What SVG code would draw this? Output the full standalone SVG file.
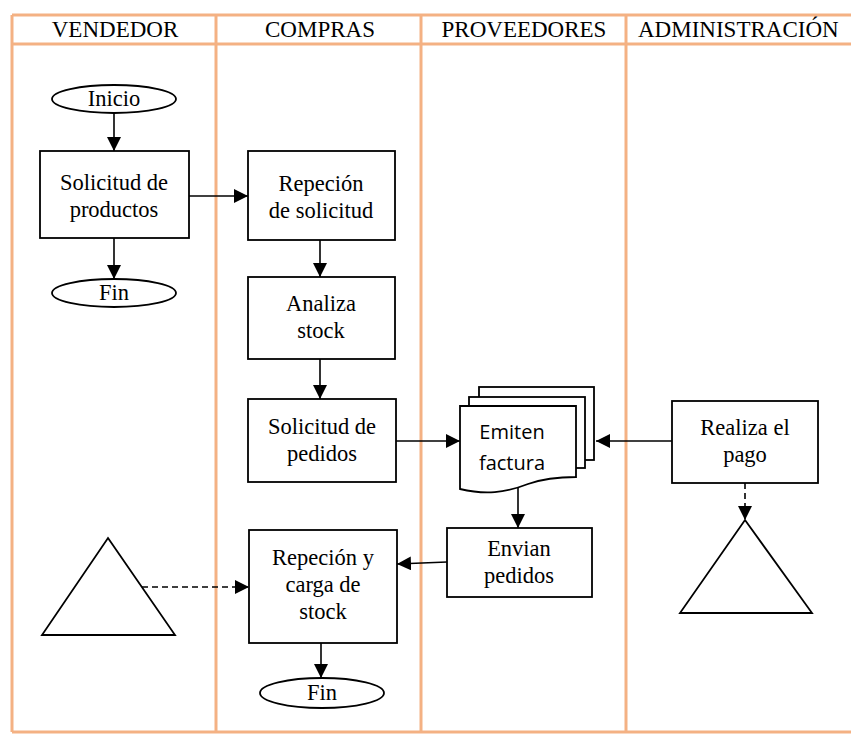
<svg xmlns="http://www.w3.org/2000/svg" width="851" height="734" viewBox="0 0 851 734">
<defs>
<style>
.lane{stroke:#f4b183;stroke-width:3;fill:none}
.hdr{font-family:"Liberation Serif","Times New Roman",serif;font-size:23px;fill:#000}
.box{fill:#fff;stroke:#000;stroke-width:1.8}
.t{font-family:"Liberation Serif","Times New Roman",serif;font-size:22.5px;fill:#000;text-anchor:middle}
.ts{font-family:"Open Sans",sans-serif;font-size:20px;fill:#000;text-anchor:middle}
.c{stroke:#000;stroke-width:1.6;fill:none}
.d{stroke:#000;stroke-width:1.6;fill:none;stroke-dasharray:6 4}
</style>
<marker id="ahl" viewBox="0 0 10 10" refX="10" refY="5" markerWidth="14" markerHeight="14" markerUnits="userSpaceOnUse" orient="auto">
<path d="M0,0 L10,5 L0,10 z" fill="#000"/>
</marker>
</defs>
<rect width="851" height="734" fill="#fff"/>
<g id="lanes">
<line class="lane" x1="12" y1="15" x2="851" y2="15"/>
<line class="lane" x1="12" y1="44" x2="851" y2="44"/>
<line class="lane" x1="12" y1="732" x2="851" y2="732"/>
<line class="lane" x1="12" y1="15" x2="12" y2="732"/>
<line class="lane" x1="216" y1="15" x2="216" y2="732"/>
<line class="lane" x1="421" y1="15" x2="421" y2="732"/>
<line class="lane" x1="626" y1="15" x2="626" y2="732"/>
<text class="hdr" x="115" y="37" text-anchor="middle">VENDEDOR</text>
<text class="hdr" x="320" y="37" text-anchor="middle">COMPRAS</text>
<text class="hdr" x="524" y="37" text-anchor="middle">PROVEEDORES</text>
<text class="hdr" x="638" y="37">ADMINISTRACIÓN</text>
</g>
<g id="connectors">
<line class="c" x1="114" y1="113" x2="114" y2="151" marker-end="url(#ahl)"/>
<line class="c" x1="114" y1="238" x2="114" y2="279" marker-end="url(#ahl)"/>
<line class="c" x1="189" y1="196" x2="248" y2="196" marker-end="url(#ahl)"/>
<line class="c" x1="320" y1="240" x2="320" y2="277" marker-end="url(#ahl)"/>
<line class="c" x1="320" y1="359" x2="320" y2="399" marker-end="url(#ahl)"/>
<line class="c" x1="396" y1="441" x2="460" y2="441" marker-end="url(#ahl)"/>
<line class="c" x1="672" y1="441" x2="596" y2="441" marker-end="url(#ahl)"/>
<line class="c" x1="518" y1="486" x2="518" y2="528" marker-end="url(#ahl)"/>
<line class="c" x1="447" y1="562" x2="397" y2="564" marker-end="url(#ahl)"/>
<line class="d" x1="142" y1="587" x2="249" y2="587" marker-end="url(#ahl)"/>
<line class="c" x1="321" y1="643" x2="321" y2="678" marker-end="url(#ahl)"/>
<line class="d" x1="745" y1="483" x2="745" y2="520" marker-end="url(#ahl)"/>
</g>
<g id="inicio">
<ellipse class="box" cx="114" cy="99" rx="62" ry="14"/>
<text class="t" x="114" y="106">Inicio</text>
</g>
<g id="solicitud-productos">
<rect class="box" x="40" y="151" width="149" height="87"/>
<text class="t" x="114" y="190">Solicitud de</text>
<text class="t" x="114" y="217">productos</text>
</g>
<g id="fin1">
<ellipse class="box" cx="114" cy="293" rx="62" ry="14"/>
<text class="t" x="114" y="300">Fin</text>
</g>
<g id="repecion-solicitud">
<rect class="box" x="248" y="151" width="147" height="89"/>
<text class="t" x="321" y="191">Repeción</text>
<text class="t" x="321" y="218">de solicitud</text>
</g>
<g id="analiza-stock">
<rect class="box" x="248" y="277" width="147" height="82"/>
<text class="t" x="321" y="311">Analiza</text>
<text class="t" x="321" y="338">stock</text>
</g>
<g id="solicitud-pedidos">
<rect class="box" x="248" y="399" width="148" height="83"/>
<text class="t" x="322" y="434">Solicitud de</text>
<text class="t" x="322" y="461">pedidos</text>
</g>
<g id="emiten-factura">
<rect class="box" x="479" y="387" width="115" height="73"/>
<rect class="box" x="469" y="397" width="116" height="71"/>
<path class="box" d="M460,406 L576,406 L576,477 C560,477 545,478 528,484 C505,493 485,495 460,489 Z"/>
<text class="ts" x="512" y="439">Emiten</text>
<text class="ts" x="512" y="470">factura</text>
</g>
<g id="envian-pedidos">
<rect class="box" x="447" y="528" width="145" height="69"/>
<text class="t" x="519" y="556">Envian</text>
<text class="t" x="519" y="583">pedidos</text>
</g>
<g id="repecion-carga">
<rect class="box" x="249" y="530" width="148" height="113"/>
<text class="t" x="323" y="565">Repeción y</text>
<text class="t" x="323" y="592">carga de</text>
<text class="t" x="323" y="619">stock</text>
</g>
<g id="fin2">
<ellipse class="box" cx="322" cy="693" rx="62" ry="15"/>
<text class="t" x="322" y="700">Fin</text>
</g>
<g id="realiza-pago">
<rect class="box" x="672" y="401" width="146" height="82"/>
<text class="t" x="745" y="435">Realiza el</text>
<text class="t" x="745" y="462">pago</text>
</g>
<g id="triangulo-vendedor">
<polygon class="box" points="108,538 175,635 42,635"/>
</g>
<g id="triangulo-admin">
<polygon class="box" points="745,520 812,613 680,613"/>
</g>
</svg>
